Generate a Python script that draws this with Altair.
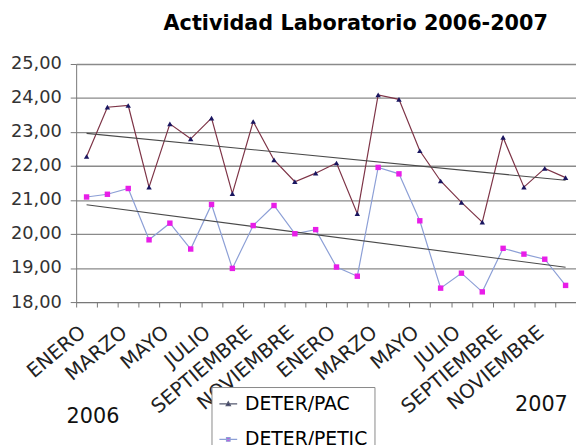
import json
import altair as alt
import pandas as pd

# ---- data ----
meses = ["ENERO", "FEBRERO", "MARZO", "ABRIL", "MAYO", "JUNIO", "JULIO",
         "AGOSTO", "SEPTIEMBRE", "OCTUBRE", "NOVIEMBRE", "DICIEMBRE"]
anios = ["2006", "2007"]
series = ["DETER/PAC", "DETER/PETIC"]
pac = [22.28, 23.73, 23.78, 21.38, 23.24, 22.80, 23.41, 21.19, 23.31, 22.18, 21.54, 21.79,
       22.09, 20.60, 24.09, 23.96, 22.45, 21.56, 20.93, 20.35, 22.84, 21.38, 21.93, 21.66]
petic = [21.09, 21.17, 21.34, 19.83, 20.32, 19.56, 20.87, 18.99, 20.25, 20.84, 20.01, 20.13,
         19.03, 18.76, 21.96, 21.77, 20.39, 18.41, 18.85, 18.30, 19.58, 19.41, 19.26, 18.49]
y_ticks = [18, 19, 20, 21, 22, 23, 24, 25]

rows = []
for s, vals in zip(series, [pac, petic]):
    for i, v in enumerate(vals):
        rows.append({"idx": i + 1, "mes": meses[i % 12], "anio": anios[i // 12],
                     "serie": s, "valor": v})
df = pd.DataFrame(rows)

n = len(pac)
label_list = [meses[i % 12] if i % 2 == 0 else "" for i in range(n)] + [""]
label_expr = json.dumps(label_list) + "[floor(datum.value)]"
x_values = [i + 0.5 for i in range(n + 1)]

FONT = "DejaVu Sans"
line_colors = ["#7d3346", "#8c9fd6"]
legend_line_colors = ["#555a70", "#8c9fd6"]
marker_colors = ["#1a1660", "#e81ee8"]
path_pac = "M-1,0L1,0M-0.24,0.22L0,-0.22L0.24,0.22Z"
path_petic = "M-1,0L1,0M-0.2,-0.2L0.2,-0.2L0.2,0.2L-0.2,0.2Z"

x_enc = alt.X("idx:Q", scale=alt.Scale(domain=[0.5, n + 0.5], nice=False, zero=False),
              axis=alt.Axis(values=x_values, tickCount=40, labelExpr=label_expr, labelAngle=-40,
                            labelAlign="right", labelBaseline="top",
                            labelFont=FONT, labelFontSize=20, labelColor="#222",
                            labelPadding=15, labelOffset=0, labelOverlap=False,
                            labelBound=False, labelFlush=False,
                            tickSize=5, tickColor="#777", domainColor="#777",
                            grid=False, title=None))
y_enc = alt.Y("valor:Q", scale=alt.Scale(domain=[18, 25], nice=False, zero=False),
              axis=alt.Axis(values=y_ticks, tickCount=40, labelOverlap=False,
                            labelExpr="replace(format(datum.value, '.2f'), '.', ',')",
                            labelFont=FONT, labelFontSize=18, labelColor="#333",
                            labelPadding=9, tickSize=6, tickColor="#777",
                            domainColor="#777", gridColor="#8a8a8a", gridWidth=1.3,
                            title=None))

base = alt.Chart(df)

lines = base.mark_line(strokeWidth=1.2).encode(
    x=x_enc, y=y_enc,
    color=alt.Color("serie:N", scale=alt.Scale(domain=series, range=line_colors), legend=None),
)

points = base.mark_point(filled=True, opacity=1, strokeWidth=0).encode(
    x=x_enc, y=y_enc,
    fill=alt.Fill("serie:N", scale=alt.Scale(domain=series, range=marker_colors), legend=None),
    shape=alt.Shape("serie:N", scale=alt.Scale(domain=series, range=["triangle-up", "square"]),
                    legend=None),
    size=alt.value(30),
)

trend = base.transform_regression("idx", "valor", groupby=["serie"]).mark_line(
    color="#4a4a4a", strokeWidth=1.1).encode(
    x="idx:Q", y="valor:Q", detail="serie:N")

leg = alt.Legend(title=None, orient="none", legendX=137, legendY=327,
                 strokeColor="#888", fillColor="white", padding=7,
                 labelFont=FONT, labelFontSize=19, labelColor="#000",
                 symbolSize=324, rowPadding=16, labelOffset=7, symbolStrokeWidth=1.2)

# invisible carrier of the legend (drawn off-canvas, left of the chart)
legend_layer = alt.Chart(pd.DataFrame({"serie": series})).mark_point(
    filled=True, opacity=1, strokeWidth=1.2).encode(
    x=alt.value(-300), y=alt.value(120),
    fill=alt.Fill("serie:N", scale=alt.Scale(domain=series, range=marker_colors), legend=leg),
    stroke=alt.Stroke("serie:N", scale=alt.Scale(domain=series, range=legend_line_colors), legend=leg),
    shape=alt.Shape("serie:N", scale=alt.Scale(domain=series, range=[path_pac, path_petic]), legend=leg),
)

years = alt.Chart(pd.DataFrame({"anio": anios, "px": [17, 471], "py": [357, 345]})).mark_text(
    font=FONT, fontSize=21, color="#111", align="center", baseline="middle").encode(
    x=alt.X("px:Q", scale=None), y=alt.Y("py:Q", scale=None), text="anio:N")

chart = alt.layer(lines, trend, points, legend_layer, years).resolve_scale(
    shape="independent", fill="independent", stroke="independent", color="independent"
).resolve_legend(
    shape="independent", fill="independent", stroke="independent", color="independent"
).properties(
    width=506, height=241,
    autosize="none",
    padding={"left": 69, "top": 54, "right": 0, "bottom": 142},
    title=alt.TitleParams("Actividad Laboratorio 2006-2007", font=FONT, fontSize=21,
                          fontWeight="bold", color="#000", anchor="middle", dx=30,
                          offset=4, baseline="alphabetic", frame="group"),
).configure_view(stroke=None)

chart.save("out.html", embed_options={"renderer": "svg", "actions": False})
